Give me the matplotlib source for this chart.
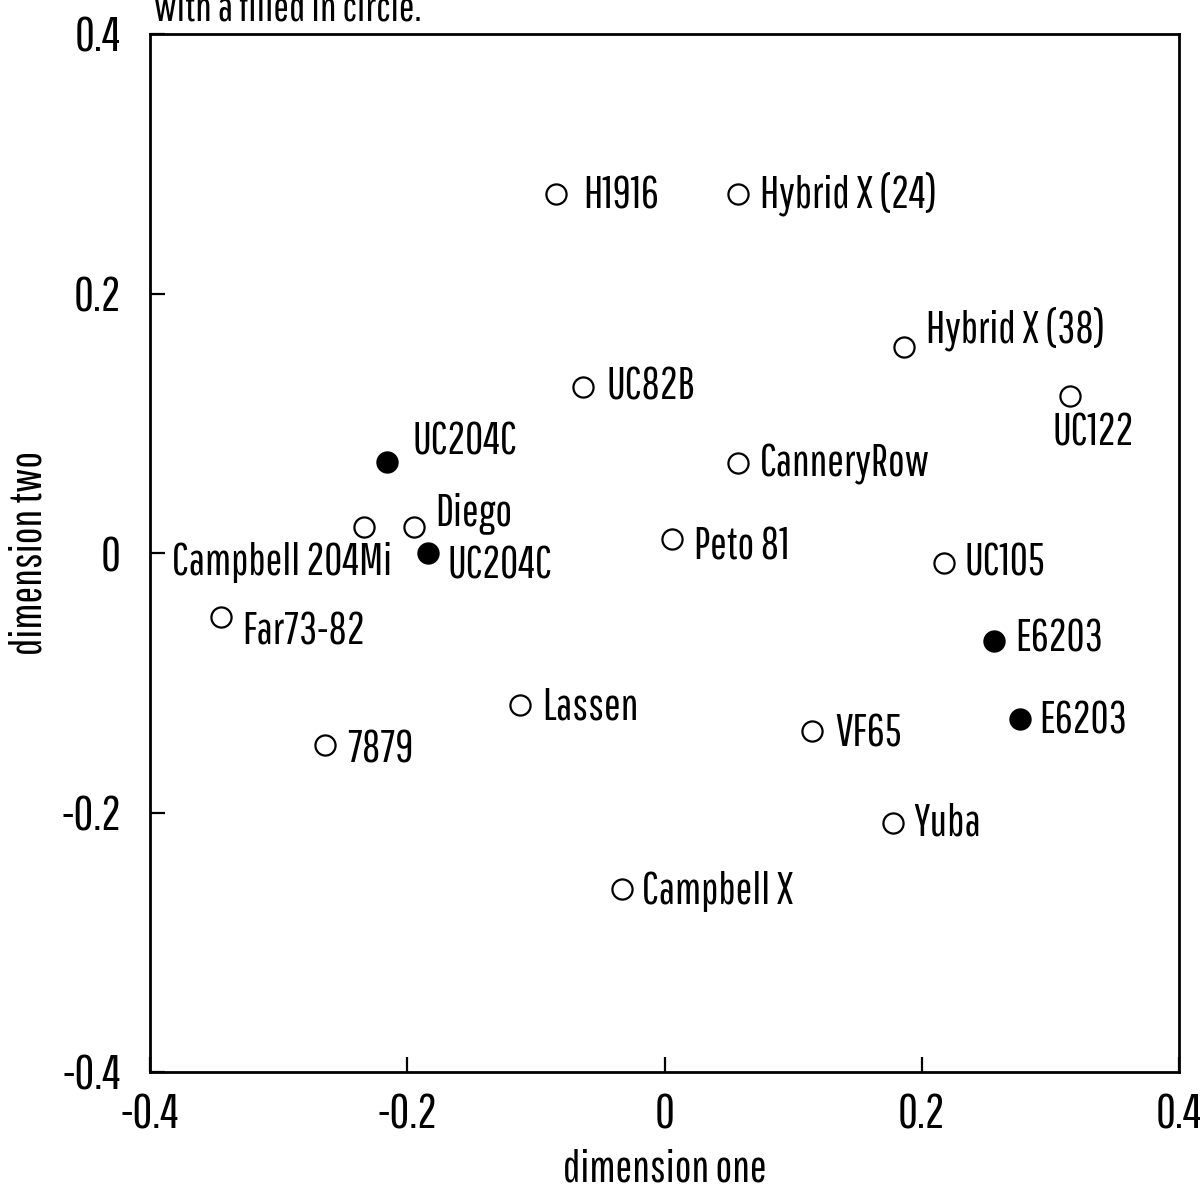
import matplotlib
matplotlib.use("Agg")
import matplotlib.pyplot as plt

# cultivar coordinates
names = ["H1916", "Hybrid X (24)", "Hybrid X (38)", "UC122", "UC82B", "UC204C",
         "CanneryRow", "Campbell 204Mi", "Diego", "UC204C", "Peto 81", "UC105",
         "Far73-82", "E6203", "E6203", "Lassen", "VF65", "7879", "Yuba", "Campbell X"]
dim_one = [-0.084, 0.057, 0.186, 0.315, -0.063, -0.216,
           0.057, -0.234, -0.195, -0.184, 0.006, 0.217,
           -0.345, 0.256, 0.276, -0.112, 0.115, -0.264, 0.178, -0.033]
dim_two = [0.277, 0.277, 0.159, 0.121, 0.128, 0.070,
           0.069, 0.020, 0.020, 0.000, 0.011, -0.008,
           -0.049, -0.068, -0.128, -0.117, -0.137, -0.148, -0.208, -0.259]
filled = [False, False, False, False, False, True,
          False, False, False, True, False, False,
          False, True, True, False, False, False, False, False]
ticks = [-0.4, -0.2, 0, 0.2, 0.4]
tick_labels = ["-0.4", "-0.2", "0", "0.2", "0.4"]

# label placement (offset in pixels from the marker, alignment)
label_pos = {
    0: (27, -2, "left"), 1: (22, 0, "left"), 2: (22, 18, "left"),
    3: (23, -37, "center"), 4: (23, 0, "left"), 5: (26, 20, "left"),
    6: (22, -1, "left"), 7: (29, -35, "right"), 8: (22, 14, "left"),
    9: (20, -13, "left"), 10: (22, -8, "left"), 11: (21, 0, "left"),
    12: (22, -15, "left"), 13: (21, 2, "left"), 14: (20, -2, "left"),
    15: (22, -2, "left"), 16: (23, -3, "left"), 17: (22, -5, "left"),
    18: (20, 0, "left"), 19: (20, -2, "left"),
}

plt.rcParams["font.family"] = ["Pathway Gothic One", "DejaVu Sans"]

fig = plt.figure(figsize=(12.02, 11.92), dpi=100)
ax = fig.add_axes([150 / 1202, 120 / 1192, 1029 / 1202, 1038 / 1192])

px = 72 / 100
for i, name in enumerate(names):
    ax.plot(dim_one[i], dim_two[i], marker="o", markersize=14.5,
            markerfacecolor="black" if filled[i] else "white",
            markeredgecolor="black", markeredgewidth=1.6, linestyle="none")
    dx, dy, ha = label_pos[i]
    ax.annotate(name, (dim_one[i], dim_two[i]), xytext=(dx * px, dy * px),
                textcoords="offset points", ha=ha, va="center", fontsize=32)

ax.set_xlim(-0.4, 0.4)
ax.set_ylim(-0.4, 0.4)
ax.set_xticks(ticks)
ax.set_xticklabels(tick_labels)
ax.set_yticks(ticks)
ax.set_yticklabels(tick_labels)
ax.tick_params(axis="both", direction="in", length=11, width=1.6, labelsize=35)
ax.tick_params(axis="x", pad=15)
ax.tick_params(axis="y", pad=21)
for s in ax.spines.values():
    s.set_linewidth(2)

ax.set_xlabel("dimension one", fontsize=32, labelpad=8)
ax.set_ylabel("dimension two", fontsize=32, labelpad=8)

fig.text(154 / 1202, 1 - 21 / 1192, "with a filled in circle.", fontsize=30,
         ha="left", va="baseline")

fig.savefig("out.png", dpi=100)
